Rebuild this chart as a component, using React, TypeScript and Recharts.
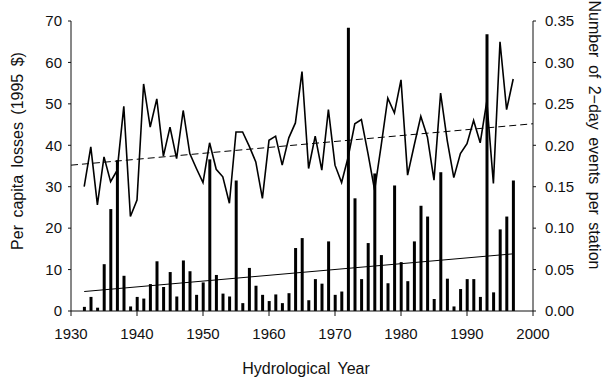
import { ComposedChart, Bar, Line, XAxis, YAxis, ReferenceLine } from "recharts";

const years = [
  1932, 1933, 1934, 1935, 1936, 1937, 1938, 1939, 1940, 1941, 1942, 1943, 1944, 1945, 1946, 1947, 1948, 1949, 1950, 1951, 1952, 1953,
  1954, 1955, 1956, 1957, 1958, 1959, 1960, 1961, 1962, 1963, 1964, 1965, 1966, 1967, 1968, 1969, 1970, 1971, 1972, 1973, 1974, 1975,
  1976, 1977, 1978, 1979, 1980, 1981, 1982, 1983, 1984, 1985, 1986, 1987, 1988, 1989, 1990, 1991, 1992, 1993, 1994, 1995, 1996, 1997,
];

// per capita losses (1995 $), left axis
const losses = [
  1.0, 3.4, 0.8, 11.3, 24.6, 36.4, 8.5, 1.1, 3.4, 3.0, 6.5, 12.0, 5.8, 9.4, 3.5, 12.2, 9.6, 3.9, 6.9, 36.6, 8.7, 4.2,
  3.5, 31.5, 1.9, 10.4, 6.1, 3.9, 2.4, 4.0, 1.9, 4.3, 15.2, 17.6, 2.6, 7.7, 6.6, 16.8, 3.9, 4.7, 68.4, 27.2, 7.7, 16.4,
  33.2, 13.5, 6.7, 30.3, 11.8, 7.2, 16.8, 25.4, 22.8, 2.9, 33.5, 7.8, 1.1, 5.3, 7.7, 7.7, 3.4, 66.8, 4.5, 19.7, 22.8, 31.5,
];

// number of 2-day events per station, right axis
const events = [
  0.15, 0.198, 0.128, 0.186, 0.156, 0.17, 0.247, 0.114, 0.134, 0.274, 0.222, 0.256, 0.187, 0.222, 0.184, 0.242, 0.19, 0.172, 0.155, 0.203, 0.171, 0.162,
  0.13, 0.216, 0.216, 0.199, 0.18, 0.136, 0.206, 0.211, 0.176, 0.209, 0.227, 0.289, 0.172, 0.211, 0.17, 0.243, 0.176, 0.155, 0.186, 0.226, 0.231, 0.19,
  0.146, 0.2, 0.257, 0.239, 0.279, 0.164, 0.2, 0.235, 0.21, 0.158, 0.263, 0.206, 0.161, 0.19, 0.202, 0.23, 0.203, 0.253, 0.154, 0.325, 0.243, 0.28,
];

const xTicks = [1930, 1940, 1950, 1960, 1970, 1980, 1990, 2000];
const lossTicks = [0, 10, 20, 30, 40, 50, 60, 70];
const eventTicks = [0, 0.05, 0.1, 0.15, 0.2, 0.25, 0.3, 0.35];

// trend line end points
const lossTrend = [
  { x: 1932, y: 4.7 },
  { x: 1997, y: 13.8 },
];
const eventTrend = [
  { x: 1930, y: 0.176 },
  { x: 2000, y: 0.226 },
];

const data = years.map((year, i) => ({ year, loss: losses[i], events: events[i] }));

const font = "'Liberation Sans', Arial, sans-serif";
const tick = { fontSize: 15, fill: "#111", fontFamily: font };

export default function App() {
  return (
    <div style={{ position: "absolute", left: 0, top: 0, width: 609, height: 378, background: "#fff", fontFamily: font }}>
      <ComposedChart width={609} height={378} data={data} margin={{ top: 21, right: 26, bottom: 37, left: 26 }}>
        <XAxis
          dataKey="year"
          type="number"
          domain={[1930, 2000]}
          ticks={xTicks}
          tick={tick}
          tickSize={5}
          tickMargin={12}
          height={30}
          stroke="#111"
        />
        <YAxis
          yAxisId="left"
          domain={[0, 70]}
          ticks={lossTicks}
          tick={tick}
          tickSize={3}
          tickMargin={6}
          width={45}
          stroke="#111"
        />
        <YAxis
          yAxisId="right"
          orientation="right"
          domain={[0, 0.35]}
          ticks={eventTicks}
          tickFormatter={(v: number) => v.toFixed(2)}
          tick={tick}
          tickSize={3}
          tickMargin={9}
          width={50}
          stroke="#111"
        />
        <Bar yAxisId="left" dataKey="loss" fill="#000" barSize={3} isAnimationActive={false} />
        <Line
          yAxisId="right"
          dataKey="events"
          stroke="#000"
          strokeWidth={1.6}
          dot={false}
          type="linear"
          isAnimationActive={false}
        />
        <ReferenceLine yAxisId="left" segment={lossTrend} stroke="#000" strokeWidth={1} />
        <ReferenceLine yAxisId="right" segment={eventTrend} stroke="#000" strokeWidth={1} strokeDasharray="7 4" />
      </ComposedChart>
      <div
        style={{
          position: "absolute",
          left: 18,
          top: 151,
          transform: "translate(-50%, -50%) rotate(-90deg)",
          whiteSpace: "nowrap",
          fontSize: 16,
          wordSpacing: 3,
          color: "#111",
        }}
      >
        Per capita losses (1995 $)
      </div>
      <div
        style={{
          position: "absolute",
          left: 594,
          top: 135,
          transform: "translate(-50%, -50%) rotate(90deg)",
          whiteSpace: "nowrap",
          fontSize: 16,
          wordSpacing: 3,
          color: "#111",
        }}
      >
        Number of 2−day events per station
      </div>
      <div
        style={{
          position: "absolute",
          left: 306,
          top: 369,
          transform: "translate(-50%, -50%)",
          whiteSpace: "nowrap",
          fontSize: 16,
          wordSpacing: 3,
          color: "#111",
        }}
      >
        Hydrological Year
      </div>
    </div>
  );
}
